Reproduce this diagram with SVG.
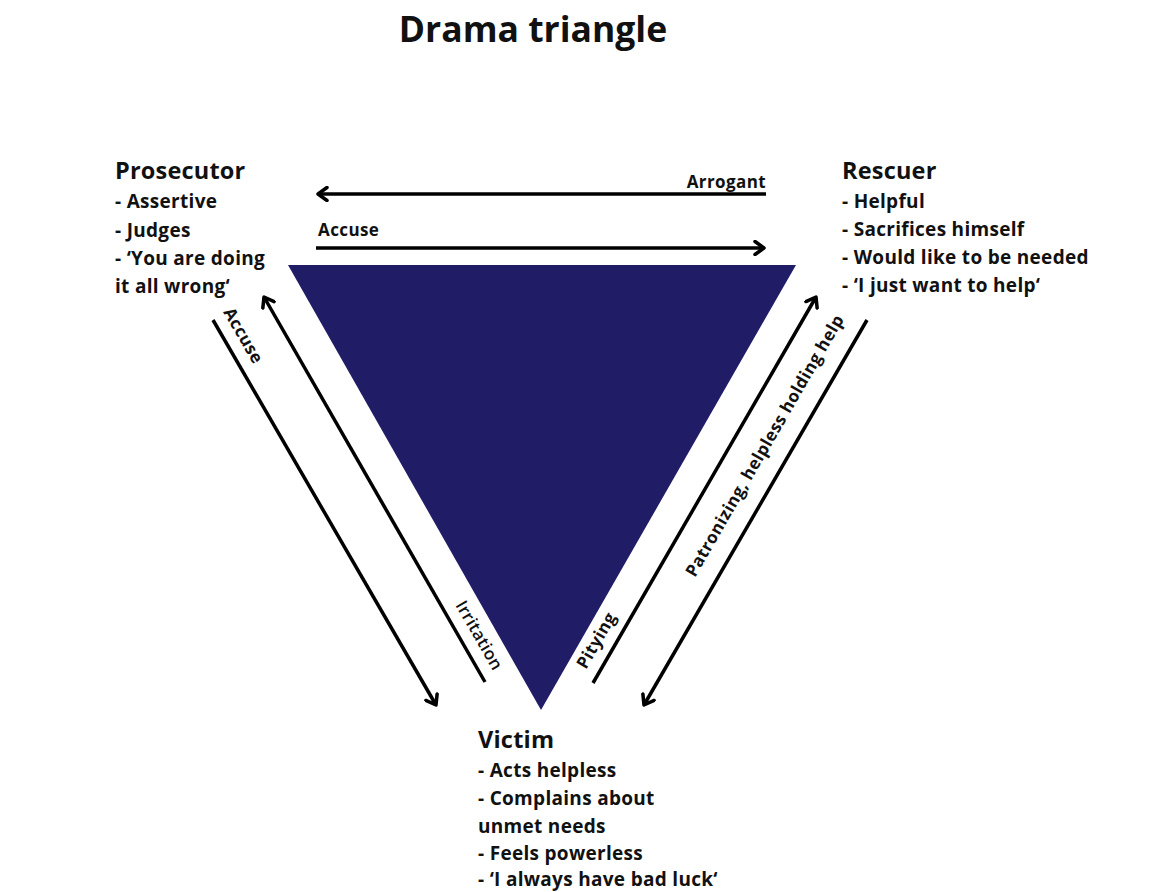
<svg xmlns="http://www.w3.org/2000/svg" width="1161" height="892" viewBox="0 0 1161 892">
<style>
text{font-family:"Open Sans","Liberation Sans",sans-serif;fill:#111;font-weight:700}
.title{font-size:35.5px;text-anchor:middle}
.head{font-size:23.5px;letter-spacing:0.2px}
.item{font-size:19px;letter-spacing:0.3px}
.lab{font-size:17px;letter-spacing:0.4px}
.labl{font-size:17px;font-weight:600;letter-spacing:0.3px}
.con{stroke:#000;stroke-width:3.5;fill:none}
</style>
<defs>
<marker id="ah" viewBox="0 0 14 16" refX="11" refY="8" markerWidth="14" markerHeight="16" markerUnits="userSpaceOnUse" orient="auto">
<path d="M2,1.5 L11,8 L2,14.5" fill="none" stroke="#000" stroke-width="3.5" stroke-linecap="round" stroke-linejoin="round"/>
</marker>
</defs>
<rect width="1161" height="892" fill="#fff"/>
<text class="title" x="533" y="42">Drama triangle</text>
<g id="triangle"><polygon points="288,265 796,265 541,710" fill="#201d66"/></g>
<g id="prosecutor">
<text class="head" x="115" y="179">Prosecutor</text>
<text class="item" x="115" y="208">- Assertive</text>
<text class="item" x="115" y="237">- Judges</text>
<text class="item" x="115" y="265">- ‘You are doing</text>
<text class="item" x="115" y="293">it all wrong‘</text>
</g>
<g id="rescuer">
<text class="head" x="842" y="179">Rescuer</text>
<text class="item" x="842" y="208">- Helpful</text>
<text class="item" x="842" y="236">- Sacrifices himself</text>
<text class="item" x="842" y="264">- Would like to be needed</text>
<text class="item" x="842" y="292">- ‘I just want to help‘</text>
</g>
<g id="victim">
<text class="head" x="478" y="748">Victim</text>
<text class="item" x="478" y="777">- Acts helpless</text>
<text class="item" x="478" y="805">- Complains about</text>
<text class="item" x="478" y="833">unmet needs</text>
<text class="item" x="478" y="860">- Feels powerless</text>
<text class="item" x="478" y="886">- ‘I always have bad luck‘</text>
</g>
<g id="connectors">
<line class="con" x1="766" y1="194" x2="318" y2="194" marker-end="url(#ah)"/>
<line class="con" x1="316" y1="248" x2="764" y2="248" marker-end="url(#ah)"/>
<line class="con" x1="213" y1="320" x2="436" y2="705" marker-end="url(#ah)"/>
<line class="con" x1="485" y1="682" x2="264" y2="297" marker-end="url(#ah)"/>
<line class="con" x1="593" y1="683" x2="816" y2="297" marker-end="url(#ah)"/>
<line class="con" x1="867" y1="320" x2="644" y2="705" marker-end="url(#ah)"/>
<text class="lab" x="766" y="188" text-anchor="end">Arrogant</text>
<text class="lab" x="318" y="236">Accuse</text>
<text class="lab" transform="translate(223,312) rotate(60)">Accuse</text>
<text class="labl" transform="translate(455,605) rotate(60)">Irritation</text>
<text class="lab" transform="translate(586,670) rotate(-60)">Pitying</text>
<text class="lab" transform="translate(695,578) rotate(-60)">Patronizing, helpless holding help</text>
</g>
</svg>
